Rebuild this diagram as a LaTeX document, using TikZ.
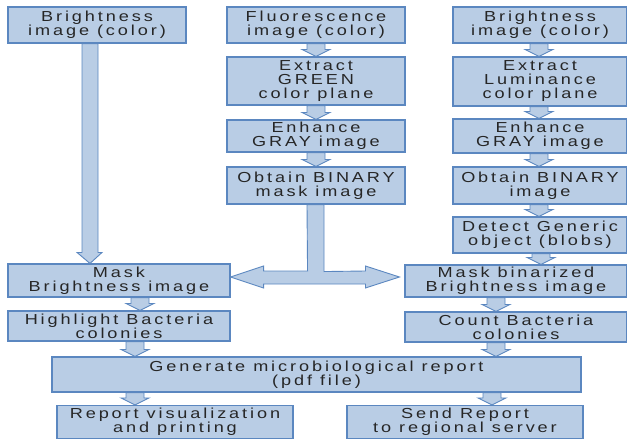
\documentclass[tikz,border=0pt]{standalone}
\usepackage{fontspec}
\setmainfont{Liberation Sans}[FakeStretch=1.25,LetterSpace=20]
\usepackage{tikz}
\usetikzlibrary{calc}
\definecolor{boxblue}{HTML}{B9CDE5}
\definecolor{edgeblue}{HTML}{5B87C0}
\definecolor{textgray}{HTML}{262626}
\tikzset{
  stage/.style={draw=edgeblue,fill=boxblue,line width=1.1pt,text=textgray,
    align=center,inner sep=0pt,font=\fontsize{14.5}{14}\selectfont},
  arrowbox/.style={draw=edgeblue,fill=boxblue,line width=0.9pt,line join=miter}
}
% small block arrow: #1 x position, #2 from node, #3 to node
\newcommand{\flow}[3]{%
  \draw[arrowbox] let \p1=(#2.south), \p2=(#3.north), \p3=(#1,0) in
    (\x3-9pt,\y1) -- (\x3-9pt,\y2+7pt) -- (\x3-14pt,\y2+7pt) -- (\x3,\y2)
    -- (\x3+14pt,\y2+7pt) -- (\x3+9pt,\y2+7pt) -- (\x3+9pt,\y1) -- cycle;}

\begin{document}
\begin{tikzpicture}[x=1pt,y=-1pt]
\useasboundingbox (0,0) rectangle (627,439);

% left column
\node[stage,minimum width=178,minimum height=36] (brightL) at (97,25) {Brightness\\image (color)};
\node[stage,minimum width=222,minimum height=33] (maskL) at (119,280.5) {Mask\\Brightness image};
\node[stage,minimum width=222,minimum height=30] (highlight) at (119,326) {Highlight Bacteria\\colonies};

% middle column
\node[stage,minimum width=178,minimum height=36] (fluor) at (316,25) {Fluorescence\\image (color)};
\node[stage,minimum width=178,minimum height=48] (green) at (316,81) {Extract\\GREEN\\color plane};
\node[stage,minimum width=178,minimum height=32] (enhG) at (316,136) {Enhance\\GRAY image};
\node[stage,minimum width=178,minimum height=37] (binG) at (316,185.5) {Obtain BINARY\\mask image};

% right column
\node[stage,minimum width=174,minimum height=36] (brightR) at (540,25) {Brightness\\image (color)};
\node[stage,minimum width=174,minimum height=49] (lumin) at (540,81.5) {Extract\\Luminance\\color plane};
\node[stage,minimum width=174,minimum height=34] (enhR) at (540,136) {Enhance\\GRAY image};
\node[stage,minimum width=174,minimum height=37] (binR) at (540,185.5) {Obtain BINARY\\image};
\node[stage,minimum width=174,minimum height=36] (blobs) at (540,235) {Detect Generic\\object (blobs)};
\node[stage,minimum width=222,minimum height=32] (maskR) at (516,281) {Mask binarized\\Brightness image};
\node[stage,minimum width=222,minimum height=30] (count) at (516,327) {Count Bacteria\\colonies};

% bottom
\node[stage,minimum width=529,minimum height=35] (report) at (316.5,374.5) {Generate microbiological report\\(pdf file)};
\node[stage,minimum width=236,minimum height=33] (visual) at (175,422) {Report visualization\\and printing};
\node[stage,minimum width=236,minimum height=33] (send) at (465,422) {Send Report\\to regional server};

% arrows
\flow{316}{fluor}{green}
\flow{316}{green}{enhG}
\flow{316}{enhG}{binG}
\flow{539}{brightR}{lumin}
\flow{539}{lumin}{enhR}
\flow{539}{enhR}{binR}
\flow{539}{binR}{blobs}
\flow{541}{blobs}{maskR}
\flow{496}{maskR}{count}
\flow{496}{count}{report}
\flow{140}{maskL}{highlight}
\flow{135}{highlight}{report}
\flow{135}{report}{visual}
\flow{492}{report}{send}

% long arrow from brightness image to mask
\draw[arrowbox] let \p1=(brightL.south), \p2=(maskL.north), \p3=(90,0) in
  (\x3-8pt,\y1) -- (\x3-8pt,\y2+11pt) -- (\x3-13pt,\y2+11pt) -- (\x3,\y2)
  -- (\x3+12pt,\y2+11pt) -- (\x3+8pt,\y2+11pt) -- (\x3+8pt,\y1) -- cycle;

% binary mask spread to both sides
\draw[arrowbox] ($(binG.south)+(-9,0)$) -- ($(maskL.east)+(77,-9.5)$)
  -- ($(maskL.east)+(33,-9.5)$) -- ($(maskL.east)+(33,-14.5)$) -- ($(maskL.east)+(0,-3.5)$)
  -- ($(maskL.east)+(33,7.5)$) -- ($(maskL.east)+(33,3.5)$)
  -- ($(maskR.west)+(-39,3)$) -- ($(maskR.west)+(-39,7)$) -- ($(maskR.west)+(-5,-4)$)
  -- ($(maskR.west)+(-39,-15)$) -- ($(maskR.west)+(-39,-10)$)
  -- ($(binG.south)+(8,67)$) -- ($(binG.south)+(8,0)$) -- cycle;
\end{tikzpicture}
\end{document}
